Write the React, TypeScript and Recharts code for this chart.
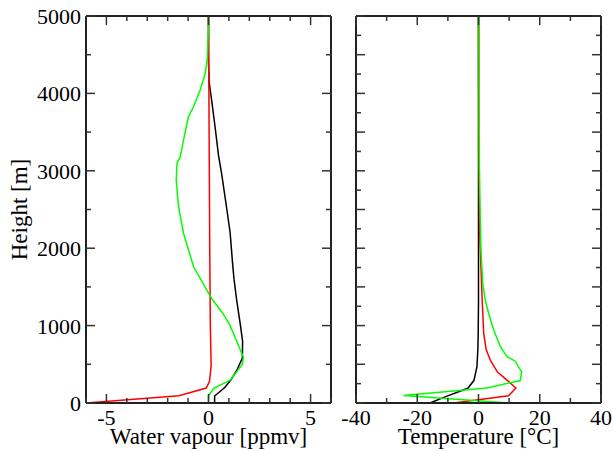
import { LineChart, Line, XAxis, YAxis, Label } from "recharts";

const FONT = "'Liberation Serif', 'Times New Roman', Times, serif";

// ---- water vapour panel (ppmv vs height m)
const wvBlackH = [0, 90, 200, 300, 430, 580, 800, 1030, 1330, 1600, 1800, 2200, 2500, 2950, 3200, 3550, 3900, 4150, 4400, 5000];
const wvBlackV = [0.3, 0.3, 0.8, 1.1, 1.4, 1.66, 1.67, 1.55, 1.38, 1.25, 1.18, 1.06, 0.9, 0.65, 0.49, 0.33, 0.16, 0.03, 0, 0];

const wvRedH = [0, 94, 193, 280, 480, 1000, 2000, 3000, 4000, 5000];
const wvRedV = [-6, -1.45, -0.11, 0.05, 0.13, 0.09, 0.06, 0.04, 0.02, 0];

const wvGreenH = [0, 90, 190, 295, 494, 590, 1000, 1160, 1333, 1420, 1760, 2190, 2540, 2880, 3100, 3180, 3400, 3700, 3830, 4040, 4260, 4470, 4900, 5000];
const wvGreenV = [0, 0, 0.25, 1.06, 1.65, 1.71, 1.06, 0.7, 0.2, 0, -0.73, -1.22, -1.47, -1.58, -1.54, -1.38, -1.22, -0.98, -0.73, -0.41, -0.16, -0.05, 0, 0];

// ---- temperature panel (°C vs height m)
const tBlackH = [0, 86, 190, 290, 470, 700, 900, 1300, 5000];
const tBlackV = [-15.8, -10.5, -3.5, -1.5, -0.5, -0.2, -0.1, 0, 0];

const tRedH = [0, 94, 193, 280, 400, 550, 690, 900, 1330, 1760, 2200, 3000, 4000, 5000];
const tRedV = [-8.1, 9.8, 12.2, 9.8, 6.2, 3.9, 2.5, 1.7, 1.2, 0.8, 0.4, 0.15, 0.05, 0];

const tGreenH = [0, 96, 194, 290, 400, 540, 600, 730, 950, 1160, 1330, 1550, 1980, 2400, 3050, 4000, 5000];
const tGreenV = [10, -24.5, 2.7, 13.6, 14.1, 12, 9.3, 7.1, 4.9, 3.3, 2.2, 1.4, 0.8, 0.55, 0.3, 0.2, 0.2];

// ticks
const wvTicks = [-6, -5, -4, -3, -2, -1, 0, 1, 2, 3, 4, 5, 6];
const wvHeightTicks = [0, 500, 1000, 1500, 2000, 2500, 3000, 3500, 4000, 4500, 5000];
const tTicks = [-40, -30, -20, -10, 0, 10, 20, 30, 40];
const tHeightTicks = [0, 250, 500, 750, 1000, 1250, 1500, 1750, 2000, 2250, 2500, 2750, 3000, 3250, 3500, 3750, 4000, 4250, 4500, 4750, 5000];

const toPoints = (hs: number[], vs: number[]) => hs.map((h, i) => ({ h, v: vs[i] }));

const FRAME = { stroke: "#222", strokeWidth: 2 };
const GREEN = "#00ff00";

type Side = "left" | "right" | "top" | "bottom";

const textStyle = { fontFamily: FONT, fill: "#000" };

const makeTick = (side: Side, majorStep: number, labels: boolean) => (props: any) => {
  const { x, y, payload } = props;
  const v = payload.value;
  const major = Math.abs(v % majorStep) < 1e-9;
  const len = major ? 9 : 5;
  let x2 = x;
  let y2 = y;
  if (side === "left") x2 = x + len;
  if (side === "right") x2 = x - len;
  if (side === "bottom") y2 = y - len;
  if (side === "top") y2 = y + len;
  return (
    <g>
      <line x1={x} y1={y} x2={x2} y2={y2} stroke="#333" strokeWidth={1.5} />
      {labels && major && side === "left" && (
        <text x={x - 5} y={y + 8} textAnchor="end" fontSize={22} style={textStyle}>
          {v}
        </text>
      )}
      {labels && major && side === "bottom" && (
        <text x={x} y={y + 22} textAnchor="middle" fontSize={22} style={textStyle}>
          {v}
        </text>
      )}
    </g>
  );
};

const xTitle = (text: string) => (p: any) => {
  const vb = p.viewBox;
  return (
    <text x={vb.x + vb.width / 2} y={vb.y + 41} textAnchor="middle" fontSize={23} style={textStyle}>
      {text}
    </text>
  );
};

const yTitle = (text: string) => (p: any) => {
  const vb = p.viewBox;
  const cx = vb.x + 26.5;
  const cy = vb.y + vb.height / 2;
  return (
    <text x={cx} y={cy} transform={`rotate(-90 ${cx} ${cy})`} textAnchor="middle" fontSize={23} style={textStyle}>
      {text}
    </text>
  );
};

const WaterPanel = () => (
  <LineChart width={340} height={451} margin={{ top: 0, right: 0, bottom: 0, left: 0 }}>
    <XAxis
      type="number"
      dataKey="v"
      domain={[-6, 6]}
      allowDataOverflow
      ticks={wvTicks}
      interval={0}
      height={48}
      tickSize={0}
      tickMargin={0}
      tickLine={false}
      axisLine={FRAME}
      tick={makeTick("bottom", 5, true)}
    >
      <Label content={xTitle("Water vapour [ppmv]")} />
    </XAxis>
    <XAxis
      xAxisId="top"
      orientation="top"
      type="number"
      dataKey="v"
      domain={[-6, 6]}
      allowDataOverflow
      ticks={wvTicks}
      interval={0}
      height={16}
      tickSize={0}
      tickMargin={0}
      tickLine={false}
      axisLine={FRAME}
      tick={makeTick("top", 5, false)}
    />
    <YAxis
      type="number"
      domain={[0, 5000]}
      allowDataOverflow
      ticks={wvHeightTicks}
      interval={0}
      width={86}
      tickSize={0}
      tickMargin={0}
      tickLine={false}
      axisLine={FRAME}
      tick={makeTick("left", 1000, true)}
    >
      <Label content={yTitle("Height [m]")} />
    </YAxis>
    <YAxis
      yAxisId="right"
      orientation="right"
      type="number"
      domain={[0, 5000]}
      allowDataOverflow
      ticks={wvHeightTicks}
      interval={0}
      width={9}
      tickSize={0}
      tickMargin={0}
      tickLine={false}
      axisLine={FRAME}
      tick={makeTick("right", 1000, false)}
    />
    <Line data={toPoints(wvBlackH, wvBlackV)} dataKey="h" type="linear" stroke="#000" strokeWidth={1.5} dot={false} isAnimationActive={false} />
    <Line data={toPoints(wvRedH, wvRedV)} dataKey="h" type="linear" stroke="#ff0000" strokeWidth={1.5} dot={false} isAnimationActive={false} />
    <Line data={toPoints(wvGreenH, wvGreenV)} dataKey="h" type="linear" stroke={GREEN} strokeWidth={1.5} dot={false} isAnimationActive={false} />
  </LineChart>
);

const TempPanel = () => (
  <LineChart width={280} height={451} margin={{ top: 0, right: 0, bottom: 0, left: 0 }}>
    <XAxis
      type="number"
      dataKey="v"
      domain={[-40, 40]}
      allowDataOverflow
      ticks={tTicks}
      interval={0}
      height={48}
      tickSize={0}
      tickMargin={0}
      tickLine={false}
      axisLine={FRAME}
      tick={makeTick("bottom", 20, true)}
    >
      <Label content={xTitle("Temperature [°C]")} />
    </XAxis>
    <XAxis
      xAxisId="top"
      orientation="top"
      type="number"
      dataKey="v"
      domain={[-40, 40]}
      allowDataOverflow
      ticks={tTicks}
      interval={0}
      height={16}
      tickSize={0}
      tickMargin={0}
      tickLine={false}
      axisLine={FRAME}
      tick={makeTick("top", 20, false)}
    />
    <YAxis
      type="number"
      domain={[0, 5000]}
      allowDataOverflow
      ticks={tHeightTicks}
      interval={0}
      width={22}
      tickSize={0}
      tickMargin={0}
      tickLine={false}
      axisLine={FRAME}
      tick={makeTick("left", 500, false)}
    />
    <YAxis
      yAxisId="right"
      orientation="right"
      type="number"
      domain={[0, 5000]}
      allowDataOverflow
      ticks={tHeightTicks}
      interval={0}
      width={13}
      tickSize={0}
      tickMargin={0}
      tickLine={false}
      axisLine={FRAME}
      tick={makeTick("right", 500, false)}
    />
    <Line data={toPoints(tBlackH, tBlackV)} dataKey="h" type="linear" stroke="#000" strokeWidth={1.5} dot={false} isAnimationActive={false} />
    <Line data={toPoints(tRedH, tRedV)} dataKey="h" type="linear" stroke="#ff0000" strokeWidth={1.5} dot={false} isAnimationActive={false} />
    <Line data={toPoints(tGreenH, tGreenV)} dataKey="h" type="linear" stroke={GREEN} strokeWidth={1.5} dot={false} isAnimationActive={false} />
  </LineChart>
);

export default function App() {
  return (
    <div style={{ position: "absolute", left: 0, top: 0, width: 614, height: 451, background: "#fff" }}>
      <div style={{ position: "absolute", left: 0, top: 0 }}>
        <WaterPanel />
      </div>
      <div style={{ position: "absolute", left: 334, top: 0 }}>
        <TempPanel />
      </div>
    </div>
  );
}
